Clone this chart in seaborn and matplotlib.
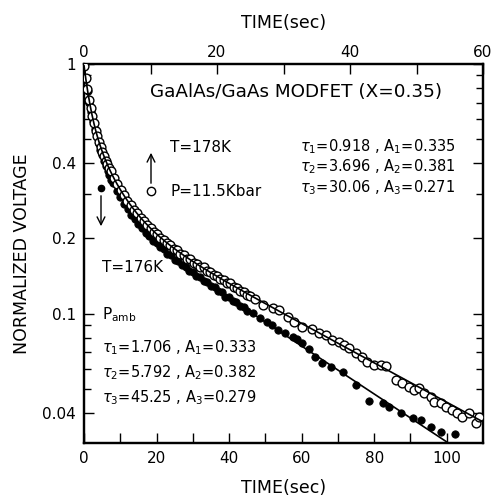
import numpy as np
import pandas as pd
import matplotlib
matplotlib.use("Agg")
import matplotlib.pyplot as plt
from matplotlib.ticker import FixedLocator, NullFormatter, FixedFormatter
import seaborn as sns

# ---------------- data ----------------
# P = 11.5 kbar, T = 178 K (open circles, top time axis 0-60 s)
open_t = [0, 0.25, 0.5, 0.75, 1.0, 1.25, 1.5, 1.75, 2.0, 2.25, 2.5, 2.75, 3.0, 3.25,
          3.5, 3.75, 4.0, 4.5, 5.0, 5.5, 6.0, 6.5, 7.0, 7.5, 8.0, 8.5, 9.0, 9.5, 10.0,
          10.5, 11.0, 11.5, 12.0, 12.5, 13.0, 13.5, 14.0, 14.5, 15.0, 15.5, 16.0, 16.5,
          17.0, 17.5, 18.0, 18.5, 19.0, 19.5, 20.0, 20.5, 21.0, 21.5, 22.0, 22.5, 23.0,
          23.5, 24.0, 24.5, 25.0, 25.65, 26.85, 28.35, 29.25, 30.75, 31.65, 32.85, 34.35,
          35.4, 36.45, 37.35, 38.4, 39.15, 39.9, 40.95, 41.85, 42.6, 43.65, 44.7, 45.45,
          46.95, 47.85, 48.9, 49.65, 50.4, 51.15, 52.2, 52.65, 53.7, 54.45, 55.35, 56.1,
          56.85, 57.9, 58.95, 59.4]
open_v = [0.985, 0.878, 0.795, 0.720, 0.668, 0.617, 0.578, 0.541, 0.514, 0.487, 0.466,
          0.444, 0.428, 0.410, 0.397, 0.382, 0.372, 0.348, 0.330, 0.312, 0.299, 0.283,
          0.273, 0.260, 0.252, 0.241, 0.235, 0.226, 0.221, 0.212, 0.208, 0.201, 0.198,
          0.191, 0.188, 0.182, 0.180, 0.174, 0.172, 0.166, 0.165, 0.160, 0.158, 0.154,
          0.153, 0.148, 0.147, 0.143, 0.142, 0.137, 0.136, 0.133, 0.132, 0.128, 0.127,
          0.123, 0.122, 0.119, 0.118, 0.1144, 0.1083, 0.1053, 0.1034, 0.0969, 0.0925,
          0.0884, 0.0870, 0.0836, 0.0821, 0.0784, 0.0769, 0.0748, 0.0728, 0.0695, 0.0670,
          0.0640, 0.0622, 0.0622, 0.0617, 0.0542, 0.0527, 0.0508, 0.0494, 0.0503, 0.0481,
          0.0463, 0.0442, 0.0438, 0.0422, 0.0411, 0.0400, 0.0385, 0.0400, 0.0364, 0.0385]

# P ambient, T = 176 K (filled circles, bottom time axis 0-110 s)
filled_t = [0, 0.5, 1.0, 1.5, 2.0, 2.5, 3.0, 3.5, 4.0, 4.5, 5.0, 5.5, 6.0, 6.5, 7.0, 7.5,
            8.0, 9.0, 10.0, 11.0, 12.0, 13.0, 14.0, 15.0, 16.0, 17.0, 18.0, 19.0, 20.0,
            21.0, 22.0, 23.0, 24.0, 25.0, 26.0, 27.0, 28.0, 29.0, 30.0, 31.0, 32.0, 33.0,
            34.0, 35.0, 36.0, 37.0, 38.0, 39.0, 40.0, 41.0, 42.0, 43.0, 44.0, 45.0,
            46.7, 48.6, 50.55, 51.9, 53.6, 55.5, 57.5, 58.8, 60.2, 61.9, 63.8, 65.7, 68.0,
            71.5, 75.1, 78.5, 82.3, 84.0, 87.3, 90.6, 92.8, 95.6, 98.3, 102.2]
filled_v = [0.992, 0.873, 0.782, 0.701, 0.643, 0.589, 0.547, 0.509, 0.480, 0.451, 0.430,
            0.407, 0.391, 0.373, 0.360, 0.344, 0.334, 0.310, 0.294, 0.276, 0.263, 0.249,
            0.240, 0.228, 0.221, 0.211, 0.205, 0.196, 0.192, 0.184, 0.181, 0.174, 0.171,
            0.164, 0.162, 0.156, 0.154, 0.148, 0.147, 0.141, 0.140, 0.135, 0.134, 0.129,
            0.128, 0.123, 0.122, 0.117, 0.117, 0.112, 0.111, 0.107, 0.106, 0.102,
            0.1005, 0.0960, 0.0925, 0.0900, 0.0859, 0.0836, 0.0806, 0.0791, 0.0762,
            0.0721, 0.0670, 0.0634, 0.0611, 0.0583, 0.0517, 0.0446, 0.0438, 0.0422,
            0.0400, 0.0382, 0.0375, 0.0351, 0.0336, 0.0330]

# three-exponential fit parameters printed on the chart
open_tau = [0.918, 3.696, 30.06]
open_amp = [0.335, 0.381, 0.271]
filled_tau = [1.706, 5.792, 45.25]
filled_amp = [0.333, 0.382, 0.279]

y_major = [0.04, 0.1, 0.2, 0.4, 1.0]
y_major_labels = ["0.04", "0.1", "0.2", "0.4", "1"]
y_minor = [0.03, 0.05, 0.06, 0.07, 0.08, 0.09, 0.3, 0.5, 0.6, 0.7, 0.8, 0.9]
bottom_ticks = [0, 20, 40, 60, 80, 100]
top_ticks = [0, 20, 40, 60]


def fit_curve(t, taus, amps):
    t = np.asarray(t, dtype=float)
    return sum(a * np.exp(-t / tau) for a, tau in zip(amps, taus))


# ---------------- figure ----------------
sns.set_style("ticks")
plt.rcParams["font.family"] = ["DejaVu Sans"]
plt.rcParams["mathtext.fontset"] = "dejavusans"
for k in ("text.color", "axes.labelcolor", "xtick.color", "ytick.color", "axes.edgecolor"):
    plt.rcParams[k] = "black"

W, H = 491, 498
fig = plt.figure(figsize=(W / 100, H / 100), dpi=100)
L, R, T, B = 84, 483, 64, 443
ax = fig.add_axes([L / W, 1 - B / H, (R - L) / W, (B - T) / H])

df_f = pd.DataFrame({"t": filled_t, "v": filled_v})
df_o = pd.DataFrame({"t": open_t, "v": open_v})
tf = np.linspace(0, 110, 600)
df_ff = pd.DataFrame({"t": tf, "v": fit_curve(tf, filled_tau, filled_amp)})
to = np.linspace(0, 60, 600)
df_fo = pd.DataFrame({"t": to, "v": fit_curve(to, open_tau, open_amp)})

ax.set_yscale("log")
sns.scatterplot(data=df_f, x="t", y="v", ax=ax, s=28, color="black",
                edgecolor="black", linewidth=0.6, zorder=3, legend=False)
sns.lineplot(data=df_ff, x="t", y="v", ax=ax, color="black", lw=1.2, zorder=4)
ax.set_xlim(0, 110)
ax.set_ylim(0.0303, 1.0)

ax2 = ax.twiny()
sns.scatterplot(data=df_o, x="t", y="v", ax=ax2, s=40, marker="o",
                facecolor="white", edgecolor="black", linewidth=1.0, zorder=3, legend=False)
sns.lineplot(data=df_fo, x="t", y="v", ax=ax2, color="black", lw=1.2, zorder=4)
ax2.set_xlim(0, 60)
ax2.set_ylim(0.0303, 1.0)

# axes styling
for a in (ax, ax2):
    for s in a.spines.values():
        s.set_linewidth(1.6)
        s.set_color("black")

ax.yaxis.set_major_locator(FixedLocator(y_major))
ax.yaxis.set_major_formatter(FixedFormatter(y_major_labels))
ax.yaxis.set_minor_locator(FixedLocator(y_minor))
ax.yaxis.set_minor_formatter(NullFormatter())
ax.set_xticks(bottom_ticks)
ax.set_xticks(np.arange(10, 110, 20), minor=True)
ax.tick_params(axis="both", which="major", direction="in", length=7, width=1.0,
               labelsize=11, pad=6)
ax.tick_params(axis="y", which="both", left=True, right=True)
ax.tick_params(axis="y", which="minor", direction="in", length=5, width=1.0)
ax.tick_params(axis="x", which="minor", direction="in", length=7, width=1.0)
ax.tick_params(axis="x", which="both", top=False)

ax2.set_xticks(top_ticks)
ax2.set_xticks([10, 30, 50], minor=True)
ax2.tick_params(axis="x", which="major", direction="in", length=7, width=1.0,
                labelsize=11, pad=3)
ax2.tick_params(axis="x", which="minor", direction="in", length=7, width=1.0)

ax.set_xlabel("TIME(sec)", fontsize=12.5, labelpad=9)
ax2.set_xlabel("TIME(sec)", fontsize=12.5, labelpad=12)
ax.set_ylabel("NORMALIZED VOLTAGE", fontsize=12.5, labelpad=8)

# annotations (axes fraction coordinates)
def fx(px):
    return (px - L) / (R - L)


def fy(py):
    return (B - py) / (B - T)


tr = ax.transAxes
ax.text(fx(150), fy(92), "GaAlAs/GaAs MODFET (X=0.35)", transform=tr,
        fontsize=13.2, ha="left", va="center")
ax.text(fx(170), fy(147), "T=178K", transform=tr, fontsize=11, ha="left", va="center")
ax.text(fx(170), fy(191), "P=11.5Kbar", transform=tr, fontsize=11, ha="left", va="center")
ax.annotate("", xy=(fx(151), fy(150)), xytext=(fx(151), fy(186)), xycoords=tr,
            textcoords=tr, arrowprops=dict(arrowstyle="->", lw=1.0, color="black",
                                           mutation_scale=14))
ax.plot([fx(151)], [fy(191)], marker="o", ms=6, mfc="white", mec="black", mew=1.0,
        transform=tr, clip_on=False)

lines_o = [r"$\tau_1$=0.918 , A$_1$=0.335",
           r"$\tau_2$=3.696 , A$_2$=0.381",
           r"$\tau_3$=30.06 , A$_3$=0.271"]
for i, s in enumerate(lines_o):
    ax.text(fx(300), fy([147, 167, 188][i]), s, transform=tr, fontsize=10.5,
            ha="left", va="center")

ax.plot([fx(101)], [fy(188)], marker="o", ms=4.5, mfc="black", mec="black",
        transform=tr, clip_on=False)
ax.annotate("", xy=(fx(101), fy(229)), xytext=(fx(101), fy(193)), xycoords=tr,
            textcoords=tr, arrowprops=dict(arrowstyle="->", lw=1.0, color="black",
                                           mutation_scale=14))
ax.text(fx(102), fy(268), "T=176K", transform=tr, fontsize=11, ha="left", va="center")
ax.text(fx(102), fy(315), r"P$_{\mathrm{amb}}$", transform=tr, fontsize=11,
        ha="left", va="center")
lines_f = [r"$\tau_1$=1.706 , A$_1$=0.333",
           r"$\tau_2$=5.792 , A$_2$=0.382",
           r"$\tau_3$=45.25 , A$_3$=0.279"]
for i, s in enumerate(lines_f):
    ax.text(fx(102), fy([348, 373, 398][i]), s, transform=tr, fontsize=10.5,
            ha="left", va="center")

fig.savefig("out.png", dpi=100)
